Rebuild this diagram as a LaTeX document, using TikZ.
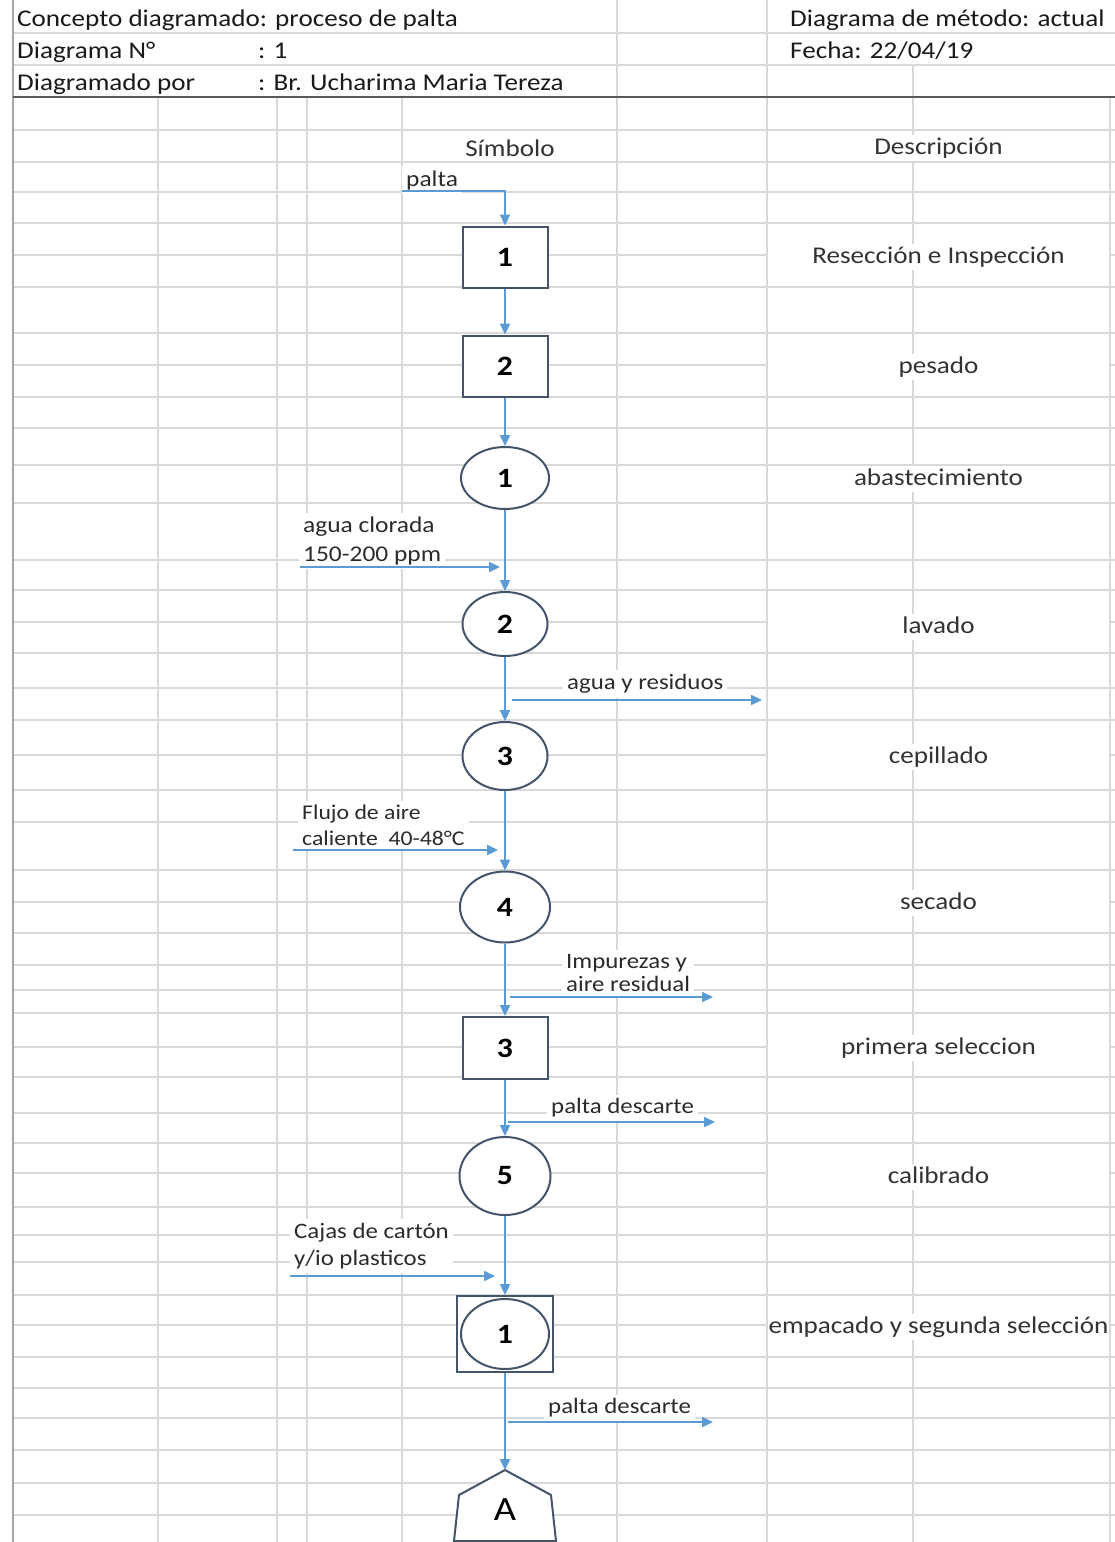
\documentclass[tikz,border=0pt]{standalone}
\usepackage{fontspec}
\setmainfont{Carlito}[FakeStretch=1.13]
\usetikzlibrary{arrows.meta,shapes.geometric}
\definecolor{gridc}{HTML}{D9D9D9}
\definecolor{borderc}{HTML}{A6A6A6}
\definecolor{rulec}{HTML}{595959}
\definecolor{flowc}{HTML}{5B9BD5}
\definecolor{shapec}{HTML}{44546A}
\definecolor{hdrc}{HTML}{1A1A1A}
\definecolor{descc}{HTML}{333333}
\definecolor{lblc}{HTML}{2B2B2B}
\begin{document}
\begin{tikzpicture}[x=1pt,y=-1pt,
  gridl/.style={draw=gridc,line width=1.4pt},
  flow/.style={draw=flowc,line width=2.2pt,-{Triangle[length=11pt,width=10pt]}},
  procbox/.style={draw=shapec,fill=white,line width=2pt,minimum width=85pt,minimum height=61pt,inner sep=0pt,font=\bfseries\fontsize{28}{30}\selectfont,text=black},
  opcirc/.style={ellipse,draw=shapec,fill=white,line width=2pt,inner sep=0pt,font=\bfseries\fontsize{28}{30}\selectfont,text=black},
  hdr/.style={anchor=base west,inner sep=0pt,font=\fontsize{24}{28}\selectfont,text=hdrc},
  desc/.style={fill=white,minimum width=341pt,minimum height=26pt,inner sep=0pt,text height=17pt,text depth=5pt,font=\fontsize{24}{28}\selectfont,text=descc},
  lbl/.style={fill=white,anchor=west,align=left,inner xsep=4pt,inner ysep=4pt,text=lblc},
]
\useasboundingbox (0,0) rectangle (1115,1542);
\fill[white] (0,0) rectangle (1115,1542);
% ---------- spreadsheet grid ----------
\foreach \y in {33,65,130,162,192,223,255,287,333,365,397,428,465,503,560,590,622,653,688,720,755,790,822,870,902,933,965,990,1013,1047,1077,1113,1143,1173,1207,1235,1262,1295,1325,1357,1388,1418,1450,1483,1515}
  \draw[gridl] (13,\y) -- (1115,\y);
\foreach \x in {158,277,307,402,617,767,913,1110}
  \draw[gridl] (\x,97) -- (\x,1542);
\foreach \x in {617,767}
  \draw[gridl] (\x,0) -- (\x,97);
\draw[gridl] (913,65) -- (913,97);
\draw[draw=borderc,line width=2pt] (13,0) -- (13,1542);
\draw[draw=rulec,line width=2.2pt] (13,97) -- (1115,97);
% ---------- header ----------
\node[hdr] (h1) at (17,26) {Concepto diagramado: proceso de palta};
\node[hdr] (h2) at (790,26) {Diagrama de método: actual};
\node[hdr] (h3) at (17,58) {Diagrama N°};
\node[hdr] (h4) at (258,58) {: 1};
\node[hdr] (h5) at (790,58) {Fecha: 22/04/19};
\node[hdr] (h6) at (17,90) {Diagramado por};
\node[hdr] (h7) at (258,90) {: Br. Ucharima Maria Tereza};
\node[anchor=base,inner sep=0pt,font=\fontsize{24}{28}\selectfont,text=descc] (sym) at (510,156) {Símbolo};
% ---------- descriptions ----------
\node[desc] (d0) at (938.5,148) {Descripción};
\node[desc] (d1) at (938.5,257) {Resección e Inspección};
\node[desc] (d2) at (938.5,367) {pesado};
\node[desc] (d3) at (938.5,479) {abastecimiento};
\node[desc] (d4) at (938.5,627) {lavado};
\node[desc] (d5) at (938.5,757) {cepillado};
\node[desc] (d6) at (938.5,903) {secado};
\node[desc] (d7) at (938.5,1048) {primera seleccion};
\node[desc] (d8) at (938.5,1177) {calibrado};
\node[desc] (d9) at (938.5,1327) {empacado y segunda selección};
% ---------- side labels ----------
\node[lbl,font=\fontsize{22.5}{29}\selectfont] (l0) at (402,180) {palta};
\node[lbl,font=\fontsize{22.5}{29}\selectfont] (l1) at (299,541) {agua clorada\\150-200 ppm};
\node[lbl,font=\fontsize{22}{28}\selectfont] (l2) at (563,684) {agua y residuos};
\node[lbl,font=\fontsize{21}{26}\selectfont] (l3) at (298,825) {Flujo de aire\\caliente~~40-48°C};
\node[lbl,font=\fontsize{22}{23}\selectfont] (l4) at (562,973) {Impurezas y\\aire residual};
\node[lbl,font=\fontsize{22}{28}\selectfont] (l5) at (547,1108) {palta descarte};
\node[lbl,font=\fontsize{22}{27}\selectfont] (l6) at (290,1246) {Cajas de cartón\\y/io plasticos};
\node[lbl,font=\fontsize{22}{28}\selectfont] (l7) at (544,1408) {palta descarte};
% ---------- symbols ----------
\node[procbox] (b1) at (505,257) {1};
\node[procbox] (b2) at (505,366) {2};
\node[opcirc,minimum width=88pt,minimum height=62pt] (c1) at (505,478) {1};
\node[opcirc,minimum width=85pt,minimum height=64pt] (c2) at (505,624) {2};
\node[opcirc,minimum width=85pt,minimum height=68pt] (c3) at (505,756) {3};
\node[opcirc,minimum width=90pt,minimum height=71pt] (c4) at (505,907) {4};
\node[procbox,minimum height=62pt] (b3) at (505,1048) {3};
\node[opcirc,minimum width=91pt,minimum height=78pt] (c5) at (505,1176) {5};
\node[procbox,minimum width=96pt,minimum height=76pt] (k1) at (505,1334) {};
\node[opcirc,minimum width=88pt,minimum height=70pt] (k2) at (505,1334) {1};
\draw[draw=shapec,fill=white,line width=2pt] (505,1470) -- (551,1495) -- (556,1541) -- (454,1541) -- (459,1495) -- cycle;
\coordinate (tip) at (505,1470);
\node[inner sep=0pt,font=\fontsize{34}{36}\selectfont,text=black] (pa) at (505,1510) {A};
% ---------- connectors ----------
\coordinate (pin) at (402,191);
\draw[flow] (pin) -| (b1.north);
\draw[flow] (b1) -- (b2);
\draw[flow] (b2) -- (c1);
\draw[flow] (c1) -- (c2);
\draw[flow] (c2) -- (c3);
\draw[flow] (c3) -- (c4);
\draw[flow] (c4) -- (b3);
\draw[flow] (b3) -- (c5);
\draw[flow] (c5) -- (k1);
\draw[flow] (k1) -- (tip);
\coordinate (ai) at (300,567); \coordinate (ae) at (500,567);
\draw[flow] (ai) -- (ae);
\coordinate (ri) at (512,700); \coordinate (re) at (762,700);
\draw[flow] (ri) -- (re);
\coordinate (fi) at (293,850); \coordinate (fe) at (498,850);
\draw[flow] (fi) -- (fe);
\coordinate (ii) at (510,997); \coordinate (ie) at (713,997);
\draw[flow] (ii) -- (ie);
\coordinate (pi) at (508,1122); \coordinate (pe) at (715,1122);
\draw[flow] (pi) -- (pe);
\coordinate (ci) at (290,1276); \coordinate (ce) at (495,1276);
\draw[flow] (ci) -- (ce);
\coordinate (qi) at (508,1422); \coordinate (qe) at (713,1422);
\draw[flow] (qi) -- (qe);
\end{tikzpicture}
\end{document}
